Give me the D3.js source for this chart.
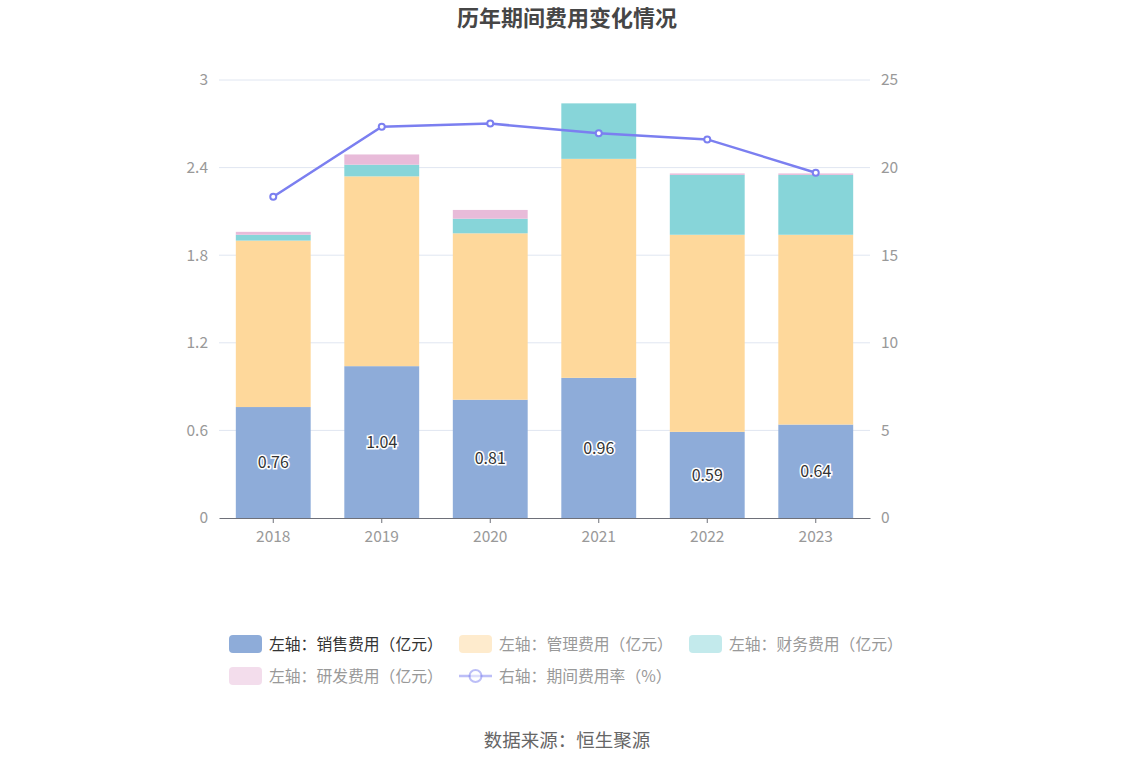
<!DOCTYPE html>
<html><head><meta charset="utf-8">
<script src="https://cdn.jsdelivr.net/npm/d3@7"></script>
<style>body{margin:0;background:#fff;}svg{display:block;font-family:"Noto Sans CJK SC","Noto Sans",sans-serif;}</style>
</head><body>
<svg id="c" width="1134" height="766"></svg>
<script>
const years = ["2018","2019","2020","2021","2022","2023"];
const sales = [0.76, 1.04, 0.81, 0.96, 0.59, 0.64];
const mgmt = [1.14, 1.30, 1.14, 1.50, 1.35, 1.30];
const fin = [0.04, 0.08, 0.10, 0.38, 0.41, 0.41];
const rnd = [0.02, 0.07, 0.06, 0.00, 0.01, 0.01];
const rate = [18.34, 22.33, 22.51, 21.96, 21.61, 19.71];
const leftTicks = [0, 0.6, 1.2, 1.8, 2.4, 3];
const rightTicks = [0, 5, 10, 15, 20, 25];
const seriesNames = ["左轴：销售费用（亿元）","左轴：管理费用（亿元）","左轴：财务费用（亿元）","左轴：研发费用（亿元）","右轴：期间费用率（%）"];
const colors = ["#8eacd9","#fed89b","#87d5d9","#e8bbd9","#7b7ff0"];

const svg = d3.select("#c");
const L = 219, R = 870, T = 80, B = 518;
const x = d3.scaleBand().domain(years).range([L, R]).paddingInner(0.31).paddingOuter(0.155);
const y = d3.scaleLinear().domain([0, 3]).range([B, T]);
const y2 = d3.scaleLinear().domain([0, 25]).range([B, T]);

// title
svg.append("text").attr("x", 567).attr("y", 26).attr("text-anchor","middle")
  .attr("font-size", 22).attr("font-weight","bold").attr("fill","#464646").text("历年期间费用变化情况");

// grid
svg.append("g").selectAll("line").data(leftTicks.slice(1)).join("line")
  .attr("x1", L).attr("x2", R).attr("y1", d=>y(d)).attr("y2", d=>y(d))
  .attr("stroke","#e0e6f1").attr("stroke-width",1);

// left axis labels
svg.append("g").selectAll("text").data(leftTicks).join("text")
  .attr("x", 208).attr("y", d=>y(d)).attr("dy","0.35em").attr("text-anchor","end")
  .attr("font-size",15.5).attr("fill","#999").text(d=>d);
// right axis labels
svg.append("g").selectAll("text").data(rightTicks).join("text")
  .attr("x", 881).attr("y", d=>y2(d)).attr("dy","0.35em").attr("text-anchor","start")
  .attr("font-size",15.5).attr("fill","#999").text(d=>d);

// stacked bars
const stackData = years.map((yr,i)=>({yr, s:sales[i], m:mgmt[i], f:fin[i], r:rnd[i]}));
const stack = d3.stack().keys(["s","m","f","r"])(stackData);
svg.append("g").selectAll("g").data(stack).join("g").attr("fill",(d,i)=>colors[i])
  .selectAll("rect").data(d=>d).join("rect")
  .attr("x", d=>x(d.data.yr)).attr("width", x.bandwidth())
  .attr("y", d=>y(d[1])).attr("height", d=>Math.max(0, y(d[0])-y(d[1])));

// x axis
const xa = svg.append("g").attr("transform",`translate(0,${B})`)
  .call(d3.axisBottom(x).tickSize(5).tickPadding(6).tickSizeOuter(0));
xa.select(".domain").attr("stroke","#6e7079");
xa.selectAll(".tick line").attr("stroke","#6e7079");
xa.selectAll(".tick text").attr("font-size",15.5).attr("fill","#999").attr("font-family",'"Noto Sans CJK SC","Noto Sans",sans-serif').attr("dy","0.85em");

// labels on sales
svg.append("g").selectAll("text").data(years).join("text")
  .attr("x", d=>x(d)+x.bandwidth()/2).attr("y",(d,i)=>y(sales[i]/2)).attr("dy","0.35em")
  .attr("text-anchor","middle").attr("font-size",16).attr("fill","#333")
  .attr("stroke","#fff").attr("stroke-width",3).attr("paint-order","stroke")
  .text((d,i)=>sales[i].toFixed(2));

// line
const line = d3.line().x((d,i)=>x(years[i])+x.bandwidth()/2).y(d=>y2(d));
svg.append("path").datum(rate).attr("d", line).attr("fill","none")
  .attr("stroke", colors[4]).attr("stroke-width",2.5);
svg.append("g").selectAll("circle").data(rate).join("circle")
  .attr("cx",(d,i)=>x(years[i])+x.bandwidth()/2).attr("cy",d=>y2(d)).attr("r",3)
  .attr("fill","#fff").attr("stroke",colors[4]).attr("stroke-width",2);

// legend
const legPos = [[229,644],[459,644],[689,644],[229,676],[459,676]];
const lg = svg.append("g");
seriesNames.forEach((name,i)=>{
  const [lx,ly] = legPos[i];
  const op = i===0 ? 1 : 0.5;
  if(i<4){
    lg.append("rect").attr("x",lx).attr("y",ly-9).attr("width",33).attr("height",18).attr("rx",4)
      .attr("fill",colors[i]).attr("opacity",op);
  } else {
    lg.append("line").attr("x1",lx).attr("x2",lx+33).attr("y1",ly).attr("y2",ly)
      .attr("stroke",colors[4]).attr("stroke-width",2.5).attr("opacity",op);
    lg.append("circle").attr("cx",lx+16.5).attr("cy",ly).attr("r",6)
      .attr("fill","#fff").attr("stroke",colors[4]).attr("stroke-width",2).attr("opacity",op);
  }
  lg.append("text").attr("x",lx+40).attr("y",ly).attr("dy","0.35em").attr("font-size",15.8)
    .attr("fill", i===0 ? "#333" : "#999").text(name);
});

// source
svg.append("text").attr("x",567).attr("y",741).attr("dy","0.35em").attr("text-anchor","middle")
  .attr("font-size",18.5).attr("fill","#666").text("数据来源：恒生聚源");
</script>
</body></html>
